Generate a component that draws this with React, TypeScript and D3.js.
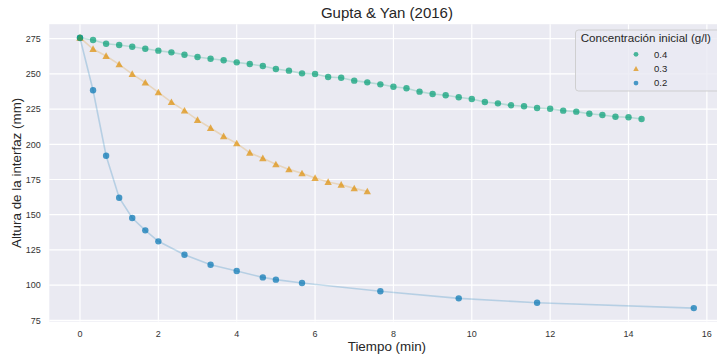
import React from "react";
import * as d3 from "d3";

const W = 717;
const H = 358;

const TITLE = "Gupta & Yan (2016)";
const X_LABEL = "Tiempo (min)";
const Y_LABEL = "Altura de la interfaz (mm)";
const LEGEND_TITLE = "Concentración inicial (g/l)";

const X_TICKS = [0, 2, 4, 6, 8, 10, 12, 14, 16];
const Y_TICKS = [75, 100, 125, 150, 175, 200, 225, 250, 275];

// Series 0.4 g/l (every 20 s)
const green_y = [
  275.7, 274.1, 271.4, 270.5, 269.3, 267.9, 266.5, 265.3, 263.6, 262.0,
  260.8, 259.7, 258.2, 257.0, 255.6, 253.5, 252.3, 250.4, 249.9, 247.8,
  247.3, 245.2, 244.0, 242.6, 240.9, 239.8, 237.4, 235.7, 234.8, 233.4,
  232.2, 230.0, 229.1, 227.7, 227.0, 225.8, 225.3, 223.9, 223.2, 221.7,
  220.8, 219.6, 219.2, 218.0,
];
// Series 0.3 g/l (every 20 s)
const orange_y = [
  275.7, 267.7, 262.7, 256.8, 249.9, 243.8, 236.9, 230.0, 223.9, 217.3,
  211.6, 205.7, 200.7, 194.0, 190.1, 185.8, 182.2, 179.4, 176.1, 173.2,
  171.3, 168.7, 166.6,
];
// Series 0.2 g/l
const blue_x = [
  0, 1 / 3, 2 / 3, 1, 4 / 3, 5 / 3, 2, 8 / 3, 10 / 3, 4, 14 / 3, 5, 17 / 3,
  23 / 3, 29 / 3, 35 / 3, 47 / 3,
];
const blue_y = [
  275.5, 238.4, 191.9, 162.1, 147.7, 138.9, 131.1, 121.6, 114.5, 110.0,
  105.5, 103.9, 101.5, 95.6, 90.6, 87.5, 83.7,
];

const green_x = green_y.map((_, i) => i / 3);
const orange_x = orange_y.map((_, i) => i / 3);

type Pt = { x: number; y: number };
const zip = (xs: number[], ys: number[]): Pt[] => xs.map((x, i) => ({ x, y: ys[i] }));

const SERIES = [
  { label: "0.2", color: "#0173b2", shape: "circle", pts: zip(blue_x, blue_y) },
  { label: "0.3", color: "#de8f05", shape: "triangle", pts: zip(orange_x, orange_y) },
  { label: "0.4", color: "#029e73", shape: "circle", pts: zip(green_x, green_y) },
];
const LEGEND_ORDER = ["0.4", "0.3", "0.2"];

const PL = 49.3, PR = 724.5, PT = 24.2, PB = 321.6;

export default function App() {
  const allX = SERIES.flatMap((s) => s.pts.map((p) => p.x));
  const allY = SERIES.flatMap((s) => s.pts.map((p) => p.y));
  const [x0, x1] = d3.extent(allX) as [number, number];
  const [y0, y1] = d3.extent(allY) as [number, number];
  const mx = (x1 - x0) * 0.05;
  const my = (y1 - y0) * 0.05;
  const x = d3.scaleLinear().domain([x0 - mx, x1 + mx]).range([PL, PR]);
  const y = d3.scaleLinear().domain([y0 - my, y1 + my]).range([PB, PT]);
  const line = d3
    .line<Pt>()
    .x((d) => x(d.x))
    .y((d) => y(d.y));

  const tri = (cx: number, cy: number, r: number) =>
    `M${cx},${cy - r}L${cx + r},${cy + r * 0.8}L${cx - r},${cy + r * 0.8}Z`;

  const marker = (shape: string, cx: number, cy: number, color: string, r: number, key: any) =>
    shape === "triangle" ? (
      <path key={key} d={tri(cx, cy, r * 1.15)} fill={color} fillOpacity={0.7} />
    ) : (
      <circle key={key} cx={cx} cy={cy} r={r} fill={color} fillOpacity={0.7} />
    );

  const font = "'Liberation Sans', Arial, sans-serif";

  return (
    <svg
      width={W}
      height={H}
      style={{ position: "fixed", left: 0, top: 0, fontFamily: font, background: "#fff" }}
    >
      <defs>
        <clipPath id="plotclip">
          <rect x={PL} y={PT} width={PR - PL} height={PB - PT} />
        </clipPath>
      </defs>
      <rect x={PL} y={PT} width={PR - PL} height={PB - PT} fill="#eaeaf2" />
      {X_TICKS.map((t) => (
        <line key={"gx" + t} x1={x(t)} x2={x(t)} y1={PT} y2={PB} stroke="#fff" strokeWidth={1.2} />
      ))}
      {Y_TICKS.map((t) => (
        <line key={"gy" + t} x1={PL} x2={PR} y1={y(t)} y2={y(t)} stroke="#fff" strokeWidth={1.2} />
      ))}
      <g clipPath="url(#plotclip)">
        {SERIES.map((s) => (
          <path
            key={"l" + s.label}
            d={line(s.pts) || ""}
            fill="none"
            stroke={s.color}
            strokeOpacity={0.22}
            strokeWidth={1.6}
          />
        ))}
        {SERIES.map((s) =>
          s.pts.map((p, i) => marker(s.shape, x(p.x), y(p.y), s.color, 3.2, s.label + "-" + i))
        )}
      </g>
      {X_TICKS.map((t) => (
        <text
          key={"tx" + t}
          x={x(t)}
          y={336.5}
          fontSize={9}
          fill="#333"
          textAnchor="middle"
        >
          {t}
        </text>
      ))}
      {Y_TICKS.map((t) => (
        <text
          key={"ty" + t}
          x={40.8}
          y={y(t) + 3.2}
          fontSize={9}
          fill="#333"
          textAnchor="end"
        >
          {t}
        </text>
      ))}
      <text x={(PL + PR) / 2} y={18} fontSize={15} fill="#262626" textAnchor="middle">
        {TITLE}
      </text>
      <text x={(PL + PR) / 2} y={350.5} fontSize={13.4} fill="#262626" textAnchor="middle">
        {X_LABEL}
      </text>
      <text
        transform={`translate(20.5,${(PT + PB) / 2}) rotate(-90)`}
        fontSize={13.4}
        fill="#262626"
        textAnchor="middle"
      >
        {Y_LABEL}
      </text>
      <g>
        <rect
          x={575.5}
          y={30}
          width={146}
          height={61}
          rx={3}
          fill="#eaeaf2"
          fillOpacity={0.8}
          stroke="#cccccc"
          strokeWidth={0.9}
        />
        <text x={580.7} y={41.5} fontSize={11.6} fill="#262626">
          {LEGEND_TITLE}
        </text>
        {LEGEND_ORDER.map((lab, i) => {
          const s = SERIES.find((d) => d.label === lab)!;
          const cy = 54.3 + i * 14.4;
          return (
            <g key={"lg" + lab}>
              {marker(s.shape, 636, cy, s.color, 2.4, "lm" + lab)}
              <text x={654} y={cy + 3.3} fontSize={9.5} fill="#262626">
                {lab}
              </text>
            </g>
          );
        })}
      </g>
    </svg>
  );
}
